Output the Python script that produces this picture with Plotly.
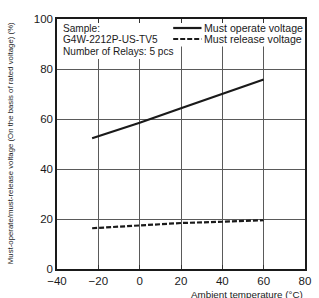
import plotly.graph_objects as go

temps = [-23, 0, 20, 40, 60]
operate = [52.3, 58.5, 64.3, 70.0, 75.8]
release = [16.3, 17.3, 18.4, 18.9, 19.5]

x_ticks = [-40, -20, 0, 20, 40, 60, 80]
y_ticks = [0, 20, 40, 60, 80, 100]

sample_lines = ["Sample:", "G4W-2212P-US-TV5", "Number of Relays: 5 pcs"]
legend_names = ["Must operate voltage", "Must release voltage"]

FONT = "Liberation Sans, Arial, sans-serif"

# plot area in window pixels: x 57..311, y 19..269
PL, PW, PB, PH = 57, 254, 269, 250


def px(xw):
    return (xw - PL) / PW


def py(yw):
    return (PB - yw) / PH


fig = go.Figure()
fig.add_trace(go.Scatter(x=temps, y=operate, mode="lines", name=legend_names[0],
                         line=dict(color="#1a1a1a", width=2.2), showlegend=False))
fig.add_trace(go.Scatter(x=temps, y=release, mode="lines", name=legend_names[1],
                         line=dict(color="#1a1a1a", width=2.2, dash="5px,2px"), showlegend=False))

# white boxes behind text (cover gridlines)
fig.add_shape(type="rect", xref="x", yref="y", x0=-40, x1=17, y0=84, y1=100,
              fillcolor="white", line=dict(width=0), layer="between")
fig.add_shape(type="rect", xref="x", yref="y", x0=17, x1=80, y0=89, y1=100,
              fillcolor="white", line=dict(width=0), layer="between")

# sample text
for i, t in enumerate(sample_lines):
    fig.add_annotation(x=px(61), xref="paper", y=py(28 + 11.5 * i), yref="paper",
                       text=t, showarrow=False, xanchor="left", yanchor="middle",
                       font=dict(family=FONT, size=10.1, color="#1a1a1a"))

# manual legend
leg_y = [28, 39]
dashes = ["solid", "5px,2px"]
for i, name in enumerate(legend_names):
    yp = py(leg_y[i])
    fig.add_shape(type="line", xref="paper", yref="paper",
                  x0=px(176), x1=px(205), y0=yp, y1=yp,
                  line=dict(color="#1a1a1a", width=2.2, dash=dashes[i]))
    fig.add_annotation(x=px(206), xref="paper", y=yp, yref="paper",
                       text=name, showarrow=False, xanchor="left", yanchor="middle",
                       font=dict(family=FONT, size=10.6, color="#1a1a1a"))

# axis titles
fig.add_annotation(x=px(9), xref="paper", y=py(143), yref="paper",
                   text="Must-operate/must-release voltage (On the basis of rated voltage) (%)",
                   textangle=-90, showarrow=False, xanchor="center", yanchor="middle",
                   font=dict(family=FONT, size=7.8, color="#1a1a1a"))
fig.add_annotation(x=1.0, xref="paper", y=py(294), yref="paper",
                   text="Ambient temperature (°C)", showarrow=False,
                   xanchor="right", yanchor="middle",
                   font=dict(family=FONT, size=9.8, color="#1a1a1a"))

fig.update_xaxes(range=[-40, 80], tickvals=x_ticks, showgrid=True, gridcolor="#5a5a5a",
                 gridwidth=1, showline=True, linecolor="#1a1a1a", linewidth=1.5,
                 mirror="ticks", ticks="inside", ticklen=4, tickcolor="#333333",
                 zeroline=False, tickfont=dict(family=FONT, size=11.5, color="#1a1a1a"))
fig.update_yaxes(range=[0, 100], tickvals=y_ticks, showgrid=True, gridcolor="#5a5a5a",
                 gridwidth=1, showline=True, linecolor="#1a1a1a", linewidth=1.5,
                 mirror=True, ticks="", zeroline=False,
                 tickfont=dict(family=FONT, size=11.5, color="#1a1a1a"))

fig.update_layout(width=319, height=298, margin=dict(l=57, r=8, t=19, b=29),
                  plot_bgcolor="white", paper_bgcolor="white", showlegend=False)

# remove the browser's default 8px body margin so the figure fills the window
fig.write_html("out.html", config={"displayModeBar": False},
               post_script="document.body.style.margin='0';document.body.style.overflow='hidden';")
